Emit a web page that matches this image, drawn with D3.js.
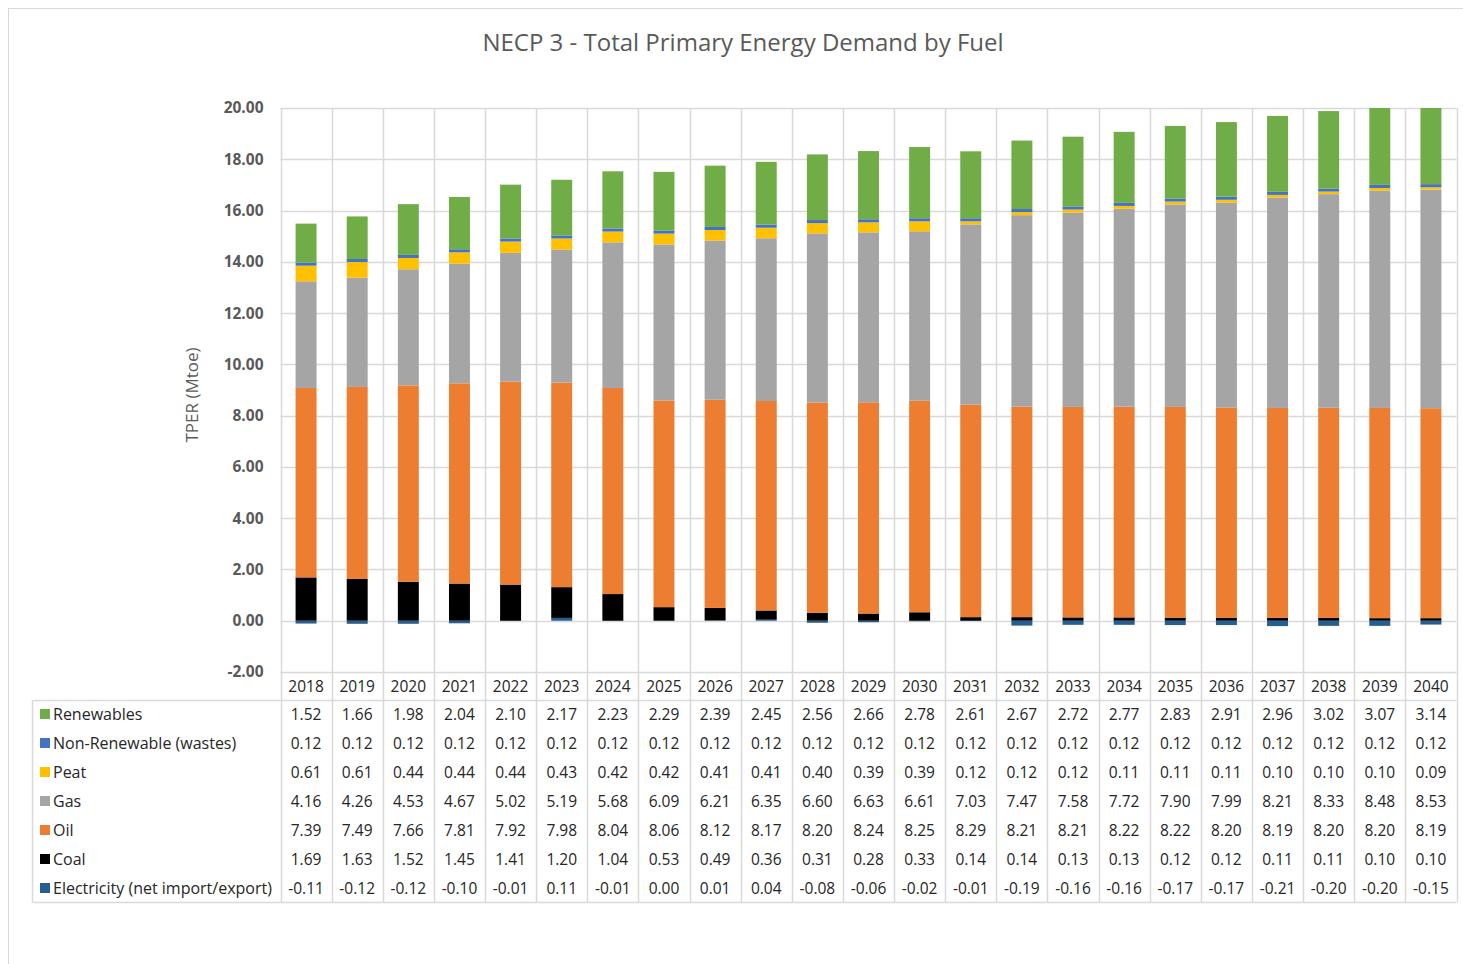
<!DOCTYPE html>
<html>
<head>
<meta charset="utf-8">
<script src="https://cdn.jsdelivr.net/npm/d3@7"></script>
<style>
  body { margin: 0; background: #fff; }
  svg { font-family: "Open Sans", "Noto Sans", sans-serif; }
</style>
</head>
<body>
<script>
var years = ["2018","2019","2020","2021","2022","2023","2024","2025","2026","2027","2028","2029","2030","2031","2032","2033","2034","2035","2036","2037","2038","2039","2040"];
var renewables = [1.52,1.66,1.98,2.04,2.10,2.17,2.23,2.29,2.39,2.45,2.56,2.66,2.78,2.61,2.67,2.72,2.77,2.83,2.91,2.96,3.02,3.07,3.14];
var wastes = [0.12,0.12,0.12,0.12,0.12,0.12,0.12,0.12,0.12,0.12,0.12,0.12,0.12,0.12,0.12,0.12,0.12,0.12,0.12,0.12,0.12,0.12,0.12];
var peat = [0.61,0.61,0.44,0.44,0.44,0.43,0.42,0.42,0.41,0.41,0.40,0.39,0.39,0.12,0.12,0.12,0.11,0.11,0.11,0.10,0.10,0.10,0.09];
var gas = [4.16,4.26,4.53,4.67,5.02,5.19,5.68,6.09,6.21,6.35,6.60,6.63,6.61,7.03,7.47,7.58,7.72,7.90,7.99,8.21,8.33,8.48,8.53];
var oil = [7.39,7.49,7.66,7.81,7.92,7.98,8.04,8.06,8.12,8.17,8.20,8.24,8.25,8.29,8.21,8.21,8.22,8.22,8.20,8.19,8.20,8.20,8.19];
var coal = [1.69,1.63,1.52,1.45,1.41,1.20,1.04,0.53,0.49,0.36,0.31,0.28,0.33,0.14,0.14,0.13,0.13,0.12,0.12,0.11,0.11,0.10,0.10];
var electricity = [-0.11,-0.12,-0.12,-0.10,-0.01,0.11,-0.01,0.00,0.01,0.04,-0.08,-0.06,-0.02,-0.01,-0.19,-0.16,-0.16,-0.17,-0.17,-0.21,-0.20,-0.20,-0.15];
var yTicks = [-2,0,2,4,6,8,10,12,14,16,18,20];

// series in table order (top to bottom)
var series = [
  {name: "Renewables", values: renewables, color: "#70ad47"},
  {name: "Non-Renewable (wastes)", values: wastes, color: "#4472c4"},
  {name: "Peat", values: peat, color: "#ffc000"},
  {name: "Gas", values: gas, color: "#a5a5a5"},
  {name: "Oil", values: oil, color: "#ed7d31"},
  {name: "Coal", values: coal, color: "#000000"},
  {name: "Electricity (net import/export)", values: electricity, color: "#255e91"}
];

var svgWidth = 1463, svgHeight = 964;
var plot = {left: 280.5, right: 1456.5, top: 108, bottom: 672};
var tableTop = 700.5, tableBottom = 902.5, tableLeft = 32.5, rowH = 29;
var gridColor = "#d9d9d9";

// Excel style number format, plain hyphen for negatives
var fmt = d => d3.format(".2f")(d).replace("\u2212", "-");

var svg = d3.select("body").append("svg")
  .attr("width", svgWidth)
  .attr("height", svgHeight);

// chart border
svg.append("rect")
  .attr("x", 8.5).attr("y", 8.5)
  .attr("width", 1480).attr("height", 980)
  .attr("fill", "none").attr("stroke", gridColor);

// title
svg.append("text")
  .attr("x", 743).attr("y", 51)
  .attr("text-anchor", "middle")
  .attr("font-size", 24)
  .attr("fill", "#595959")
  .text("NECP 3 - Total Primary Energy Demand by Fuel");

var x = d3.scaleBand().domain(years).range([plot.left, plot.right]).padding(0);
var y = d3.scaleLinear().domain([-2, 20]).range([plot.bottom, plot.top]);
var barW = x.bandwidth() * 0.41;

// horizontal gridlines
svg.append("g").selectAll("line")
  .data(yTicks).enter().append("line")
  .attr("x1", plot.left).attr("x2", plot.right)
  .attr("y1", d => Math.round(y(d)) + 0.5).attr("y2", d => Math.round(y(d)) + 0.5)
  .attr("stroke", gridColor).attr("stroke-width", 1.5);

// vertical lines through plot and table
var bounds = years.map(d => x(d)).concat([plot.right]);
svg.append("g").selectAll("line")
  .data(bounds).enter().append("line")
  .attr("x1", d => Math.round(d) + 0.5).attr("x2", d => Math.round(d) + 0.5)
  .attr("y1", plot.top).attr("y2", tableBottom)
  .attr("stroke", gridColor).attr("stroke-width", 1.5);

// table lines
svg.append("line")
  .attr("x1", tableLeft).attr("x2", plot.right)
  .attr("y1", tableTop).attr("y2", tableTop)
  .attr("stroke", gridColor).attr("stroke-width", 1.5);
svg.append("line")
  .attr("x1", tableLeft).attr("x2", plot.right)
  .attr("y1", tableBottom).attr("y2", tableBottom)
  .attr("stroke", gridColor).attr("stroke-width", 1.5);
svg.append("line")
  .attr("x1", tableLeft).attr("x2", tableLeft)
  .attr("y1", tableTop).attr("y2", tableBottom)
  .attr("stroke", gridColor).attr("stroke-width", 1.5);

// stacked bars
var rows = years.map(function(yr, i) {
  var r = {year: yr};
  series.forEach(s => r[s.name] = s.values[i]);
  return r;
});
var stackOrder = series.map(s => s.name).reverse();
var stacked = d3.stack().keys(stackOrder).offset(d3.stackOffsetDiverging)(rows);
var colorOf = {};
series.forEach(s => colorOf[s.name] = s.color);

svg.append("clipPath").attr("id", "plotclip")
  .append("rect")
  .attr("x", plot.left).attr("y", plot.top)
  .attr("width", plot.right - plot.left).attr("height", plot.bottom - plot.top);

var barsGroup = svg.append("g").attr("clip-path", "url(#plotclip)");
barsGroup.selectAll("g")
  .data(stacked).enter().append("g")
  .attr("fill", d => colorOf[d.key])
  .selectAll("rect")
  .data(d => d).enter().append("rect")
  .attr("x", d => x(d.data.year) + (x.bandwidth() - barW) / 2)
  .attr("width", barW)
  .attr("y", d => y(Math.max(d[0], d[1])))
  .attr("height", d => Math.abs(y(d[0]) - y(d[1])));

// y axis
var leftAxis = d3.axisLeft(y).tickValues(yTicks).tickFormat(fmt).tickSize(0).tickPadding(17);
var yAxis = svg.append("g")
  .attr("transform", `translate(${plot.left}, 0)`)
  .call(leftAxis);
yAxis.select(".domain").remove();
yAxis.selectAll("text")
  .attr("font-family", "'Open Sans', sans-serif")
  .attr("font-size", 15.5)
  .attr("font-weight", "bold")
  .attr("fill", "#595959");

svg.append("text")
  .attr("transform", "rotate(-90)")
  .attr("x", -395).attr("y", 198)
  .attr("text-anchor", "middle")
  .attr("font-size", 17)
  .attr("fill", "#595959")
  .text("TPER (Mtoe)");

// table header (years)
svg.append("g").selectAll("text")
  .data(years).enter().append("text")
  .attr("x", d => x(d) + x.bandwidth() / 2)
  .attr("y", 692)
  .attr("text-anchor", "middle")
  .attr("font-size", 15.5)
  .attr("fill", "#262626")
  .text(d => d);

// table rows
series.forEach(function(s, i) {
  var cy = 714 + i * rowH;
  svg.append("rect")
    .attr("x", 40).attr("y", cy - 5)
    .attr("width", 10).attr("height", 10)
    .attr("fill", s.color);
  svg.append("text")
    .attr("x", 53).attr("y", cy + 5.5)
    .attr("font-size", 16)
    .attr("fill", "#262626")
    .text(s.name);
  svg.append("g").selectAll("text")
    .data(s.values).enter().append("text")
    .attr("x", (d, j) => x(years[j]) + x.bandwidth() / 2)
    .attr("y", cy + 5.5)
    .attr("text-anchor", "middle")
    .attr("font-size", 15.5)
    .attr("fill", "#262626")
    .text(d => fmt(d));
});
</script>
</body>
</html>
